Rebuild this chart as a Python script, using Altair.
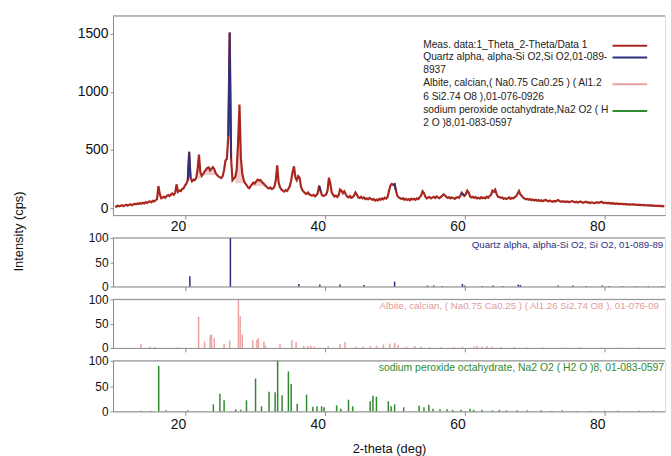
import altair as alt
import pandas as pd
import numpy as np

# ---------------- data ----------------
TT_START = 10.0
TT_STEP = 0.2
MEAS = [
    18, 12, 22, 15, 20,      # 10
    25, 17, 24, 30, 21,      # 11
    28, 34, 25, 31, 38,      # 12
    33, 40, 36, 44, 38,      # 13
    47, 41, 52, 45, 55,      # 14
    58, 50, 63, 57, 68,      # 15
    78, 190, 120, 85, 92,    # 16
    98, 90, 105, 112, 104,   # 17
    118, 126, 115, 132, 205, # 18
    140, 152, 146, 165, 170, # 19
    195, 210, 240, 485, 260, # 20
    232, 245, 240, 258, 330, # 21
    460, 310, 278, 292, 315, # 22
    330, 345, 350, 325, 340, # 23
    352, 335, 300, 285, 272, # 24
    265, 258, 275, 330, 410, # 25
    425, 620, 1510, 430, 240,# 26
    255, 268, 330, 560, 890, # 27
    430, 300, 240, 215, 200, # 28
    180, 172, 190, 205, 220, # 29
    212, 230, 245, 238, 242, # 30
    225, 215, 200, 188, 176, # 31
    170, 178, 165, 168, 185, # 32
    240, 368, 220, 180, 160, # 33
    150, 142, 155, 148, 165, # 34
    190, 240, 310, 360, 265, # 35
    240, 275, 262, 185, 155, # 36
    140, 128, 122, 135, 118, # 37
    112, 108, 115, 102, 110, # 38
    130, 192, 150, 112, 105, # 39
    110, 118, 150, 262, 210, # 40
    135, 115, 100, 108, 96,  # 41
    112, 160, 150, 128, 145, # 42
    120, 100, 92, 105, 88,   # 43
    95, 110, 135, 118, 92,   # 44
    88, 98, 84, 92, 78,      # 45
    85, 76, 88, 80, 72,      # 46
    78, 65, 74, 66, 80,      # 47
    72, 84, 76, 90, 82,      # 48
    95, 150, 195, 208, 200,  # 49
    206, 150, 105, 92, 85,   # 50
    78, 86, 72, 80, 70,      # 51
    78, 68, 82, 74, 80,      # 52
    72, 85, 78, 95, 110,     # 53
    145, 130, 98, 85, 92,    # 54
    96, 84, 90, 98, 88,      # 55
    100, 92, 85, 95, 105,    # 56
    118, 110, 96, 88, 95,    # 57
    84, 92, 86, 80, 90,      # 58
    95, 88, 105, 132, 118,   # 59
    105, 120, 150, 135, 100, # 60
    92, 98, 88, 95, 84,      # 61
    90, 82, 95, 86, 92,      # 62
    85, 98, 90, 105, 115,    # 63
    150, 140, 158, 120, 98,  # 64
    95, 88, 92, 80, 86,      # 65
    78, 85, 92, 80, 88,      # 66
    84, 95, 102, 125, 147,   # 67
    118, 105, 90, 82, 76,    # 68
    80, 72, 78, 68, 74,      # 69
    66, 72, 64, 70, 62,      # 70
    68, 60, 66, 72, 63,      # 71
    58, 65, 60, 55, 62,      # 72
    57, 64, 70, 60, 55,      # 73
    60, 54, 58, 52, 57,      # 74
    50, 56, 62, 54, 50,      # 75
    55, 48, 52, 58, 50,      # 76
    46, 52, 55, 47, 50,      # 77
    44, 50, 46, 42, 48,      # 78
    52, 45, 50, 55, 47,      # 79
    44, 48, 42, 46, 40,      # 80
    44, 38, 42, 36, 40,      # 81
    35, 39, 34, 38, 32,      # 82
    36, 31, 35, 29, 33,      # 83
    30, 34, 28, 31, 27,      # 84
    30, 26, 29, 24, 27,      # 85
    23, 26, 22, 25, 20,      # 86
    23, 19, 22, 18, 21,      # 87
    17, 20, 16, 19,          # 88
]

QUARTZ_POS = [20.7, 26.5, 36.3, 39.3, 42.2, 45.6, 50.0, 54.7, 55.6, 56.8, 59.7, 60.0,
              62.5, 64.1, 65.5, 67.7, 68.0, 73.4, 75.5, 77.4, 79.7, 80.7, 82.6, 84.5,
              86.3, 88.3]
QUARTZ_INT = [21, 100, 5, 4, 4, 3, 10, 2, 2, 1, 5, 2, 1, 2, 1, 4, 3, 2, 2, 1, 2, 1, 1, 1, 1, 1]

ALBITE_POS = [13.7, 15.0, 15.7, 19.0, 21.96, 22.8, 23.6, 23.8, 24.2, 25.6, 26.4, 27.65,
              27.9, 28.2, 29.7, 30.3, 30.5, 31.3, 31.5, 33.6, 35.3, 35.9, 37.0, 37.6,
              38.0, 38.5, 40.5, 42.2, 42.9, 44.5, 45.5, 46.5, 47.4, 48.4, 49.3, 50.0,
              50.5, 51.7, 52.9, 53.8, 55.0, 56.6, 58.5, 59.7, 61.4, 61.8, 62.5, 63.2,
              63.9, 65.2, 67.1, 69.0, 71.3, 74.0, 76.5, 79.5, 82.0, 85.0]
ALBITE_INT = [8, 3, 2, 1, 64, 13, 26, 28, 20, 8, 15, 100, 66, 28, 16, 17, 20, 13, 5, 8,
              16, 12, 4, 4, 5, 3, 4, 8, 12, 3, 3, 4, 5, 7, 9, 11, 6, 3, 4, 3, 2, 2, 2, 3,
              3, 4, 3, 4, 3, 2, 2, 1, 1, 1, 2, 1, 1, 1]

SODIUM_POS = [13.7, 15.1, 16.24, 17.3, 20.4, 24.06, 25.0, 25.6, 27.26, 28.0, 28.8, 30.1,
              30.95, 32.03, 32.9, 33.26, 33.9, 34.8, 35.2, 36.06, 37.4, 38.3, 38.9, 39.55,
              39.9, 41.7, 42.3, 43.4, 44.0, 46.5, 46.9, 47.4, 49.1, 49.5, 50.0, 51.3, 53.5,
              54.2, 54.9, 55.5, 56.5, 57.5, 58.3, 59.5, 60.8, 61.3, 62.5, 64.0, 65.0, 66.0,
              67.5, 69.0, 71.0, 72.5, 74.0, 76.0, 78.0, 80.0, 82.0, 85.0, 87.0]
SODIUM_INT = [1, 1, 90, 2, 2, 14, 35, 22, 4, 3, 22, 65, 10, 39, 38, 100, 32, 79, 54, 15,
              33, 9, 10, 10, 8, 12, 5, 23, 10, 20, 31, 29, 20, 10, 14, 8, 11, 8, 13, 5, 4,
              4, 3, 3, 5, 3, 3, 2, 3, 2, 2, 2, 2, 1, 2, 1, 1, 1, 1, 1, 1]

QUARTZ_WINDOWS = [(20.4, 20.8), (26.2, 26.6), (39.2, 39.4), (49.8, 50.2), (59.6, 60.0)]
ALBITE_WINDOWS = [(21.6, 22.4), (22.8, 24.6), (27.2, 28.6), (29.4, 31.4)]

LEGEND_NAMES = ["Meas. data:1_Theta_2-Theta/Data 1",
                "Quartz alpha, alpha-Si O2,Si O2,01-089-\n8937",
                "Albite, calcian,( Na0.75 Ca0.25 ) ( Al1.2\n6 Si2.74 O8 ),01-076-0926",
                "sodium peroxide octahydrate,Na2 O2 ( H\n2 O )8,01-083-0597"]
PANEL_LABELS = ["Quartz alpha, alpha-Si O2, Si O2, 01-089-8937",
                "Albite, calcian, ( Na0.75 Ca0.25 ) ( Al1.26 Si2.74 O8 ), 01-076-0926",
                "sodium peroxide octahydrate, Na2 O2 ( H2 O )8, 01-083-0597"]

X_DOMAIN = [9.7, 88.7]
MAIN_Y_DOMAIN = [-60, 1653]

# ---------------- styling ----------------
W = 557
H_MAIN = 201
H_SUB = [49, 49, 51]
LABEL_X = [362, 269, None]   # None -> right aligned, whole text visible
LABEL_SIZE = [9.8, 9.8, 10.5]
FONT = "Liberation Sans"
GRAY = "#8a8a8a"
C_MEAS = "#a8281f"
C_QTZ = "#2e2e7e"
C_ALB = "#eaa2a2"
C_ALB_TXT = "#e29a9a"
C_NA = "#2f8a2f"

tt = np.round(TT_START + TT_STEP * np.arange(len(MEAS)), 2)
meas = pd.DataFrame({"tt": tt, "I": MEAS})

q_rows = []
for k, (a, b) in enumerate(QUARTZ_WINDOWS):
    sub = meas[(meas.tt >= a - 1e-6) & (meas.tt <= b + 1e-6)].copy()
    sub["w"] = k
    q_rows.append(sub)
q_df = pd.concat(q_rows)

a_rows = []
for k, (a, b) in enumerate(ALBITE_WINDOWS):
    sub = meas[(meas.tt >= a - 1e-6) & (meas.tt <= b + 1e-6)].copy()
    sub["w"] = k
    sub["base"] = min(sub.I.iloc[0], sub.I.iloc[-1])
    a_rows.append(sub)
a_df = pd.concat(a_rows)

xscale = alt.Scale(domain=X_DOMAIN, nice=False, zero=False)


def x_axis(labels, title=None, pad=1):
    kw = dict(values=[20, 40, 60, 80], grid=False, domainColor=GRAY, tickColor=GRAY,
              tickSize=4, labels=labels, labelFontSize=14, labelOffset=-7,
              labelPadding=pad, labelColor="#111", labelFont=FONT, format="d")
    if title:
        kw.update(title=title, titleFontSize=13, titleFontWeight="normal",
                  titleFont=FONT, titleY=37, titleBaseline="middle", titleColor="#111")
    else:
        kw.update(title=None)
    return alt.Axis(**kw)


def y_axis(values, title=None, size=14):
    kw = dict(values=values, grid=False, domainColor=GRAY, tickColor=GRAY, tickSize=3,
              labelFontSize=size, labelPadding=2, labelColor="#111", labelFont=FONT,
              format="d")
    if title:
        kw.update(title=title, titleFontSize=13, titleFontWeight="normal", titleFont=FONT,
                  titleX=-95, titleY=217, titleAngle=270, titleBaseline="middle",
                  titleAlign="center", titleColor="#111")
    else:
        kw.update(title=None)
    return alt.Axis(**kw)


one = pd.DataFrame({"k": [0]})


def top_border():
    return alt.Chart(one).mark_rule(color=GRAY, strokeWidth=1).encode(
        x=alt.value(0), x2=alt.value(W), y=alt.value(0))


# ---------------- main panel ----------------
yscale_main = alt.Scale(domain=MAIN_Y_DOMAIN, nice=False, zero=False)

area = alt.Chart(a_df).mark_area(color=C_ALB, opacity=0.55).encode(
    x=alt.X("tt:Q", scale=xscale, axis=x_axis(True)),
    y=alt.Y("I:Q", scale=yscale_main, axis=y_axis([0, 500, 1000, 1500], "Intensity (cps)")),
    y2="base:Q",
    detail="w:N")

line = alt.Chart(meas).mark_line(color=C_MEAS, strokeWidth=2.2).encode(
    x=alt.X("tt:Q", scale=xscale),
    y=alt.Y("I:Q", scale=yscale_main))

qline = alt.Chart(q_df).mark_line(color=C_QTZ, strokeWidth=1.8).encode(
    x=alt.X("tt:Q", scale=xscale),
    y=alt.Y("I:Q", scale=yscale_main),
    detail="w:N")

legend_layers = []
leg_colors = [C_MEAS, C_QTZ, C_ALB, C_NA]
leg_y = [30, 42, 69, 96]
for name, col, yy in zip(LEGEND_NAMES, leg_colors, leg_y):
    legend_layers.append(
        alt.Chart(pd.DataFrame({"t": [name.split("\n")]})).mark_text(
            align="left", baseline="top", font=FONT, fontSize=10.3, color="#222",
            lineHeight=13.4).encode(x=alt.value(313), y=alt.value(yy - 6), text="t"))
    legend_layers.append(
        alt.Chart(one).mark_rule(color=col, strokeWidth=2).encode(
            x=alt.value(504), x2=alt.value(539), y=alt.value(yy)))

main = alt.layer(area, line, qline, top_border(), *legend_layers).properties(
    width=W, height=H_MAIN)


# ---------------- stick panels ----------------
def stick_panel(pos, inten, color, label, label_color, label_x, label_size, h, bottom):
    df = pd.DataFrame({"tt": pos, "rel": inten, "zero": 0})
    if bottom:
        xa = x_axis(True, "2-theta (deg)", pad=2)
    else:
        xa = x_axis(False)
    sticks = alt.Chart(df).mark_rule(color=color, strokeWidth=1.5).encode(
        x=alt.X("tt:Q", scale=xscale, axis=xa),
        y=alt.Y("rel:Q", scale=alt.Scale(domain=[0, 100], nice=False),
                axis=y_axis([0, 50, 100], size=12)),
        y2="zero:Q")
    if label_x is None:
        txt = alt.Chart(pd.DataFrame({"t": [label]})).mark_text(
            align="right", baseline="middle", font=FONT, fontSize=label_size,
            color=label_color).encode(x=alt.value(W - 1), y=alt.value(7), text="t:N")
    else:
        txt = alt.Chart(pd.DataFrame({"t": [label]})).mark_text(
            align="left", baseline="middle", font=FONT, fontSize=label_size,
            color=label_color, limit=W - label_x + 2, ellipsis=" ").encode(
            x=alt.value(label_x), y=alt.value(7), text="t:N")
    return alt.layer(sticks, top_border(), txt).properties(width=W, height=h)


p_q = stick_panel(QUARTZ_POS, QUARTZ_INT, C_QTZ, PANEL_LABELS[0], C_QTZ,
                  LABEL_X[0], LABEL_SIZE[0], H_SUB[0], False)
p_a = stick_panel(ALBITE_POS, ALBITE_INT, C_ALB, PANEL_LABELS[1], C_ALB_TXT,
                  LABEL_X[1], LABEL_SIZE[1], H_SUB[1], False)
p_s = stick_panel(SODIUM_POS, SODIUM_INT, C_NA, PANEL_LABELS[2], C_NA,
                  LABEL_X[2], LABEL_SIZE[2], H_SUB[2], True)

inner = alt.vconcat(p_q, p_a, p_s, spacing=13, bounds="flush")
chart = alt.vconcat(main, inner, spacing=23, bounds="flush").properties(
    padding={"left": 12, "top": 13, "right": 1, "bottom": 0}
).configure_view(stroke=None).configure(background="white")

chart.save("out.html", embed_options={"renderer": "svg", "actions": False})
